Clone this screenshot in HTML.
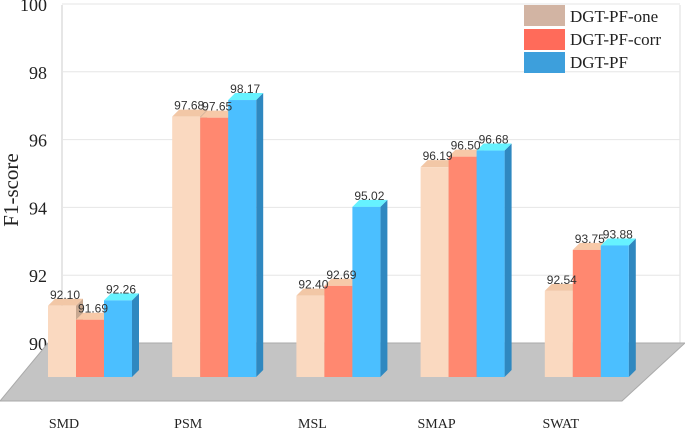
<!DOCTYPE html>
<html><head><meta charset="utf-8"><style>
body{margin:0;background:#fff;}
svg{display:block;font-family:"Liberation Sans",sans-serif;}
.serif{font-family:"Liberation Serif",serif;}
</style></head><body>
<svg id="chart" width="685" height="430">
  <g id="grid"></g>
  <polygon points="48,343 685,343 622,401 0,401" fill="#c4c4c4" stroke="#aaa" stroke-width="1"/>
  <g id="bars"></g>
  <g id="labels"></g>
  <g id="xaxis"></g>
  <text class="serif" x="0" y="0" transform="translate(18,190) rotate(-90)" text-anchor="middle" font-size="21" fill="#222">F1-score</text>
  <g>
    <rect x="524" y="5" width="41" height="21" fill="#d2b4a3"/>
    <text class="serif" x="570" y="22" font-size="17" fill="#222">DGT-PF-one</text>
    <rect x="524" y="29" width="41" height="21" fill="#ff6b5a"/>
    <text class="serif" x="570" y="45" font-size="17" fill="#222">DGT-PF-corr</text>
    <rect x="524" y="52" width="41" height="21" fill="#3d9fdc"/>
    <text class="serif" x="570" y="68" font-size="17" fill="#222">DGT-PF</text>
  </g>
</svg>
<script>
const categories = ["SMD","PSM","MSL","SMAP","SWAT"];
const seriesOne = [92.10, 97.68, 92.40, 96.19, 92.54];
const seriesCorr = [91.69, 97.65, 92.69, 96.50, 93.75];
const seriesPF = [92.26, 98.17, 95.02, 96.68, 93.88];
const yTicks = [90, 92, 94, 96, 98, 100];
const labelsOne = ["92.10","97.68","92.40","96.19","92.54"];
const labelsCorr = ["91.69","97.65","92.69","96.50","93.75"];
const labelsPF = ["92.26","98.17","95.02","96.68","93.88"];

const NS = "http://www.w3.org/2000/svg";
const gridY = v => 343 - (v - 90) * 33.9;
const barY = v => 377 - (v - 90) * 33.9;
const groupX = i => 48 + i * 124.2;
const BW = 28, DX = 7, DY = 7;
function mk(tag, attrs, parent){const e=document.createElementNS(NS,tag);for(const k in attrs)e.setAttribute(k,attrs[k]);parent.appendChild(e);return e;}
const grid=document.getElementById('grid'), bars=document.getElementById('bars'), labels=document.getElementById('labels'), xaxis=document.getElementById('xaxis');
mk('line',{x1:62,y1:5,x2:62,y2:343,stroke:'#ccc'},grid);
mk('line',{x1:680,y1:5,x2:680,y2:343,stroke:'#ddd'},grid);
yTicks.forEach(t=>{
  const y=gridY(t);
  const l=mk('line',{x1:62,y1:y,x2:680,y2:y,stroke:'#e6e6e6'},grid);
  
  
  const tx=mk('text',{x:47,y:y+7,'text-anchor':'end','font-size':18,fill:'#222',class:'serif'},grid);
  tx.textContent=t;
  
  
});
const series=[
  {vals:seriesOne,labs:labelsOne,front:'#fad9c0',top:'#f2c7a6',side:'#c8a890',key:'one'},
  {vals:seriesCorr,labs:labelsCorr,front:'#ff8870',top:'#f7c9a8',side:'#d06a58',key:'corr'},
  {vals:seriesPF,labs:labelsPF,front:'#4bbfff',top:'#66f2ff',side:'#2f88c0',key:'pf'}
];
categories.forEach((c,i)=>{
  const gx=groupX(i);
  series.forEach((s,j)=>{
    const x=gx+j*BW, v=s.vals[i], y=barY(v), b=barY(90);
    const side=mk('polygon',{points:`${x+BW},${y} ${x+BW+DX},${y-DY} ${x+BW+DX},${b-DY} ${x+BW},${b}`,fill:s.side},bars);
    
    
    const top=mk('polygon',{points:`${x},${y} ${x+DX},${y-DY} ${x+BW+DX},${y-DY} ${x+BW},${y}`,fill:s.top},bars);
    
    
    const r=mk('rect',{x:x,y:y,width:BW,height:b-y,fill:s.front},bars);
    
    
    const t=mk('text',{x:x+BW/2+3,y:y-7,'text-anchor':'middle','font-size':12,fill:'#333'},labels);
    t.textContent=s.labs[i];
    
    
  });
  const ct=mk('text',{x:gx+16,y:428,'text-anchor':'middle','font-size':14,fill:'#222',class:'serif'},xaxis);
  ct.textContent=c;
  
  
});
</script>
</body></html>
